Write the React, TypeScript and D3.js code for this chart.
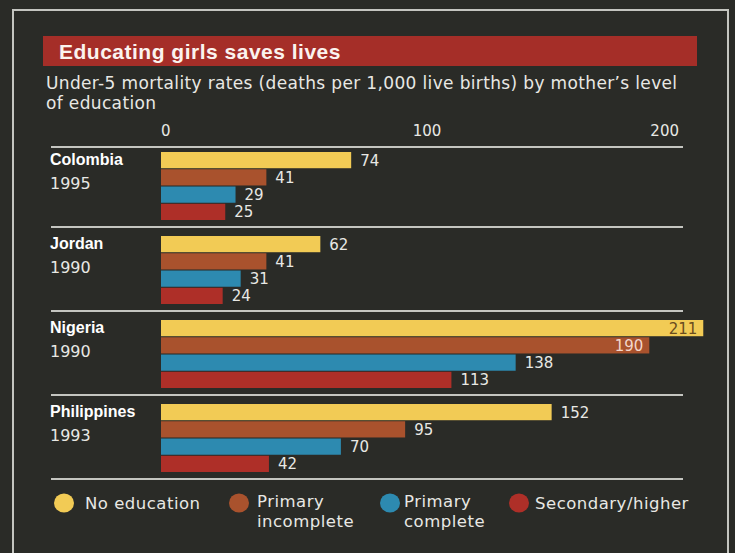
import React from "react";
import * as d3 from "d3";

const countries = ["Colombia", "Jordan", "Nigeria", "Philippines"];
const years = ["1995", "1990", "1990", "1993"];
const seriesNames = ["No education", "Primary incomplete", "Primary complete", "Secondary/higher"];
const legendLines = [["No education"], ["Primary", "incomplete"], ["Primary", "complete"], ["Secondary/higher"]];
const noEducation = [74, 62, 211, 152];
const primaryIncomplete = [41, 41, 190, 95];
const primaryComplete = [29, 31, 138, 70];
const secondaryHigher = [25, 24, 113, 42];
const tickValues = [0, 100, 200];
const seriesColors = ["#f2cb55", "#a9522d", "#2d8ab0", "#ae2f28"];

const title = "Educating girls saves lives";
const subtitleLines = ["Under-5 mortality rates (deaths per 1,000 live births) by mother\u2019s level", "of education"];

const W = 735;
const H = 553;
const BG = "#2a2b27";
const LINE = "#c4c5c0";
const TEXT = "#e8e8e4";
const SANS = "'Liberation Sans', Arial, sans-serif";
const NUM = "'DejaVu Sans', Verdana, sans-serif";

export default function App() {
  const series = [noEducation, primaryIncomplete, primaryComplete, secondaryHigher];
  const x = d3.scaleLinear().domain([0, 200]).range([161, 675]);
  const yGroup = d3.scaleBand<string>().domain(countries).range([143, 479]).paddingInner(0);
  const yBar = d3.scaleBand<string>().domain(seriesNames).range([9, 9 + 68]).paddingInner(0.06);
  const legendCx = [64, 239, 390, 519];
  const legendTx = [85, 257, 404, 535];

  return (
    <div style={{ position: "absolute", left: 0, top: 0, width: W, height: H, overflow: "hidden" }}>
      <svg width={W} height={H} style={{ display: "block" }}>
        <rect x={0} y={0} width={W} height={H} fill={BG} />
        {/* frame */}
        <path d={`M13,${H} V10 H728 V${H}`} fill="none" stroke={LINE} strokeWidth={2} />
        {/* title bar */}
        <rect x={43} y={36} width={654} height={30} fill="#a52e28" />
        <text x={59} y={59} fill="#fbf3ef" fontFamily={SANS} fontWeight="bold" fontSize={21} style={{ letterSpacing: "0.5px" }}>
          {title}
        </text>
        {subtitleLines.map((l, i) => (
          <text key={i} x={46} y={89 + i * 20} fill={TEXT} fontFamily={NUM} fontSize={17} style={{ letterSpacing: "0.35px" }}>
            {l}
          </text>
        ))}
        {/* ticks */}
        {tickValues.map((t, i) => (
          <text
            key={t}
            x={x(t) + (i === 0 ? 0 : i === tickValues.length - 1 ? 4 : 9)}
            y={136}
            fill={TEXT}
            fontFamily={NUM}
            fontSize={15}
            textAnchor={i === 0 ? "start" : i === tickValues.length - 1 ? "end" : "middle"}
          >
            {t}
          </text>
        ))}
        <line x1={51} x2={683} y1={147} y2={147} stroke={LINE} strokeWidth={2} />
        {countries.map((c, ci) => {
          const g0 = yGroup(c) as number;
          return (
            <g key={c}>
              {ci > 0 && <line x1={51} x2={683} y1={g0} y2={g0} stroke={LINE} strokeWidth={2} />}
              <text x={50} y={g0 + 22} fill="#ffffff" fontFamily={SANS} fontWeight="bold" fontSize={16}>{c}</text>
              <text x={50} y={g0 + 46} fill={TEXT} fontFamily={NUM} fontSize={16}>{years[ci]}</text>
              {series.map((s, si) => {
                const v = s[ci];
                const by = g0 + (yBar(seriesNames[si]) as number);
                const bh = yBar.bandwidth();
                const xe = x(v);
                const inside = v > 180;
                return (
                  <g key={si}>
                    <rect x={x(0)} y={by} width={xe - x(0)} height={bh} fill={seriesColors[si]} />
                    <text
                      x={inside ? xe - 6 : xe + 9}
                      y={by + bh / 2 + 5.5}
                      fill={inside ? (si === 0 ? "#6a4c1e" : "#f3d6cc") : TEXT}
                      fontFamily={NUM}
                      fontSize={15}
                      textAnchor={inside ? "end" : "start"}
                    >
                      {v}
                    </text>
                  </g>
                );
              })}
            </g>
          );
        })}
        <line x1={51} x2={683} y1={479} y2={479} stroke={LINE} strokeWidth={2} />
        {/* legend */}
        {seriesNames.map((n, i) => (
          <g key={n}>
            <ellipse cx={legendCx[i]} cy={503} rx={10} ry={9.5} fill={seriesColors[i]} />
            {legendLines[i].map((l, li) => (
              <text
                key={li}
                x={legendTx[i]}
                y={(legendLines[i].length > 1 ? 507 : 509) + li * 19.5}
                fill={TEXT}
                fontFamily={NUM}
                fontSize={16.5}
                style={{ letterSpacing: "0.5px" }}
              >
                {l}
              </text>
            ))}
          </g>
        ))}
      </svg>
    </div>
  );
}
